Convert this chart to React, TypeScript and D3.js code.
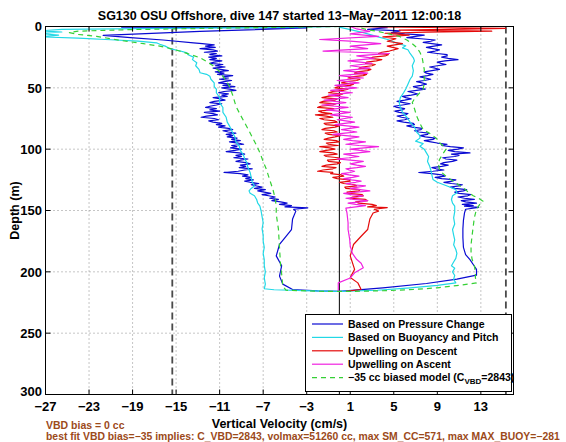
import React from 'react';
import * as d3 from 'd3';

type P = [number, number]; // [depth (m), vertical velocity (cm/s)]

const titleText = 'SG130 OSU Offshore, dive 147 started 13\u2212May\u22122011 12:00:18';
const xLabel = 'Vertical Velocity (cm/s)';
const yLabel = 'Depth (m)';
const noteLines = [
  'VBD bias = 0 cc',
  'best fit VBD bias=\u221235 implies: C_VBD=2843, volmax=51260 cc, max SM_CC=571, max MAX_BUOY=\u2212281',
];
const xTicks = [-27, -23, -19, -15, -11, -7, -3, 1, 5, 9, 13];
const yTicks = [0, 50, 100, 150, 200, 250, 300];
const xDomain: [number, number] = [-27, 16];
const yDomain: [number, number] = [0, 300];
const vbdLimits = [-15.35, 15.3];
const zeroLine = 0;

const legendLabels = [
  'Based on Pressure Change',
  'Based on Buoyancy and Pitch',
  'Upwelling on Descent',
  'Upwelling on Ascent',
];
const modelLabelParts = ['\u221235 cc biased model (C', 'VBD', '=2843)'];

const pressureDescent: P[] = [
  [0, -0.5], [0.6, -20], [1.1, -3], [4, -12.8], [7.3, -21.7], [9, -19.2], [11, -16.2], [13.3, -13.4],
  [14, -12.6], [15, -11.5], [16, -12.3], [17, -11.4], [18, -12.8], [19, -11.6], [20, -11.2], [21, -12.4],
  [22, -11.3], [23, -11.9], [24, -10.8], [25, -12.0], [26, -11.3], [27, -11.9], [28, -10.8], [29, -11.5],
  [30, -11.9], [31, -10.7], [32, -11.4], [33, -10.5], [34, -11.6], [35, -10.9], [36, -10.2], [37, -11.4],
  [38, -10.6], [39, -11.2], [40, -9.8], [41, -10.7], [42, -10.2], [43, -11.0], [44, -9.9], [45, -10.6],
  [46, -11.1], [47, -10.0], [48, -10.7], [49, -9.6], [50, -10.8], [51, -10.1], [52, -9.5], [53, -10.6],
  [54, -11.1], [55, -10.2], [56, -10.8], [57, -10.3], [58, -11.6], [59, -10.9], [60, -10.5], [61, -11.5],
  [62, -11.9], [63, -10.8], [64, -11.3], [65, -11.9], [66, -12.3], [67, -11.3], [68, -11.9], [69, -11.0],
  [70, -12.4], [71, -11.6], [72, -11.2], [73, -12.2], [74, -12.7], [75, -11.5], [76, -11.1], [77, -12.0],
  [78, -11.6], [79, -10.8], [80, -11.3], [81, -10.5], [82, -11.1], [83, -10.2], [84, -9.8], [85, -10.7],
  [86, -10.2], [87, -9.5], [88, -10.4], [89, -9.8], [90, -10.3], [91, -9.4], [92, -9.9], [93, -9.1],
  [94, -10.1], [95, -9.3], [96, -8.8], [97, -9.9], [98, -9.4], [99, -10.0], [100, -9.0], [101, -9.6],
  [102, -10.4], [103, -9.2], [104, -8.7], [105, -9.5], [106, -9.0], [107, -9.7], [108, -8.4], [109, -9.1],
  [110, -9.5], [111, -8.6], [112, -8.2], [113, -9.1], [114, -8.6], [115, -9.2], [116, -8.0], [117, -8.7],
  [118, -9.3], [119, -10.6], [120, -9.1], [121, -8.4], [122, -8.9], [123, -8.1], [124, -8.6], [125, -7.9],
  [126, -8.7], [127, -8.2], [128, -7.4], [129, -8.1], [130, -7.6], [131, -7.1], [132, -7.8], [133, -6.8],
  [134, -7.5], [135, -6.9], [136, -6.3], [137, -7.1], [138, -6.5], [139, -5.9], [140, -6.4], [141, -5.6],
  [142, -6.2], [143, -5.4], [144, -4.8], [145, -5.5], [146, -4.4], [147, -5.0], [147.8, -2.9], [149, -4.2],
  [150.5, -4.0], [157, -4.3], [165.5, -4.4], [171, -4.9], [177.7, -5.5], [187, -5.8], [195, -5.3],
  [203.5, -5.5], [210, -5.2], [214.4, -4.3], [215.5, -2.0], [216, 0],
];
const pressureAscent: P[] = [
  [216, 0], [213, 4], [209.5, 8], [206, 10.8], [202.7, 12.6], [198, 12.6], [194, 12.3], [190, 12.0],
  [186, 11.6], [180, 11.4], [172, 11.35], [165, 11.35], [158, 11.4], [152, 11.5], [149, 11.6],
  [147.5, 12.8], [146.5, 11.5], [146, 12.3], [145, 11.3], [144, 12.6], [143, 11.6], [142, 11.2], [141, 12.4],
  [140, 11.5], [139, 10.9], [138, 11.8], [137, 12.1], [136, 11.0], [135, 10.6], [134, 11.4], [133, 11.7],
  [132, 10.6], [131, 10.2], [130, 11.0], [129, 11.3], [128, 10.3], [127, 9.6], [126, 10.4], [125, 10.7],
  [124, 9.4], [123, 8.8], [122, 9.7], [121, 9.4], [120, 8.5], [119, 7.3], [118, 8.6], [117, 9.6],
  [116, 8.9], [115, 8.5], [114, 9.4], [113, 10.0], [112, 9.3], [111, 9.6], [110, 10.4], [109, 10.8],
  [108, 9.8], [107, 9.5], [106, 10.6], [105, 11.0], [104, 10.3], [103, 12.0], [102, 10.6], [101, 10.0],
  [100, 10.9], [99, 11.4], [98, 10.2], [97, 9.4], [96, 9.9], [95, 9.0], [94, 8.4], [93, 7.8], [92, 8.6],
  [91, 8.8], [90, 7.9], [89, 7.4], [88, 8.1], [87, 8.2], [86, 7.3], [85, 6.9], [84, 7.5], [83, 7.6],
  [82, 6.7], [81, 6.2], [80, 6.9], [79, 6.8], [78, 5.9], [77, 5.3], [76, 6.0], [75, 6.4], [74, 5.7],
  [73, 5.3], [72, 6.1], [71, 6.3], [70, 5.5], [69, 5.1], [68, 5.8], [67, 6.0], [66, 5.3], [65, 5.0],
  [64, 5.8], [63, 6.5], [62, 5.9], [61, 5.3], [60, 6.0], [59, 6.6], [58, 6.1], [57, 5.8], [56, 6.6],
  [55, 7.2], [54, 6.8], [53, 6.3], [52, 7.1], [51, 7.9], [50, 7.2], [49, 6.8], [48, 7.5], [47, 8.0],
  [46, 7.6], [45, 7.1], [44, 7.8], [43, 8.4], [42, 7.9], [41, 7.4], [40, 8.1], [39, 8.6], [38, 8.0],
  [37, 7.8], [36, 8.5], [35, 9.2], [34, 8.8], [33, 8.3], [32, 9.0], [31, 9.8], [30, 9.3], [29, 9.0],
  [28, 9.7], [27, 10.9], [26, 10.0], [25, 9.4], [24, 9.9], [23, 9.9], [22, 9.0], [21, 8.1], [20, 8.8],
  [19, 9.2], [18, 8.6], [17, 8.0], [16, 8.7], [15, 9.4], [14, 8.5], [13, 7.7], [12, 8.4], [11, 8.8],
  [10, 7.5], [9, 6.2], [8, 7.0], [7, 7.8], [6, 6.0], [5, 4.8], [4, 5.4], [3.5, 5.6], [2.4, 2.6],
  [1, 4.4], [0, 3.0],
];

const buoyancyDescent: P[] = [
  [0, 0], [0.8, -6], [1.6, -16], [2.4, -25.5], [3.5, -27.5], [4.5, -25.5], [5.7, -27.6], [7, -25.8],
  [8.4, -27.6], [9.5, -24], [10.8, -21], [12, -18.5], [13.3, -16.8], [14.5, -16.5], [16, -16.0], [18, -15.6],
  [20, -14.6], [21.5, -14.0], [23, -13.9], [25, -13.4], [27, -13.5], [29.6, -13.1], [32, -13.2], [35, -12.9],
  [37.7, -12.8], [39, -12.2], [40.5, -11.9], [43, -11.8], [46, -11.5], [49, -11.5], [51, -11.3], [54, -11.3],
  [58, -11.0], [62, -11.0], [66, -10.7], [70, -10.7], [74, -10.4], [78, -10.3], [81, -10.1], [85, -9.9],
  [90, -9.6], [94, -9.5], [97.6, -9.2], [101, -9.1], [105, -8.8], [108, -8.7], [111, -8.5], [115, -8.4],
  [119, -8.2], [123, -8.1], [127, -8.0], [130, -7.8], [132, -8.1], [134, -8.3], [136, -8.2], [138, -7.8],
  [141, -7.6], [144, -7.5], [146.5, -7.3], [150, -7.2], [155, -7.1], [160, -7.0], [165, -7.1], [170, -7.0],
  [175, -7.0], [180, -6.9], [185, -7.0], [190, -6.9], [195, -6.9], [200, -6.8], [205, -6.9], [210, -6.8],
  [213.8, -6.9], [214.6, -6.0], [215.5, -2.5], [216, 0],
];
const buoyancyAscent: P[] = [
  [216, 0], [215, 3.5], [213, 6.5], [211, 9], [209, 10.7], [206, 10.5], [203, 10.6], [200, 10.4],
  [197, 10.6], [195, 10.3], [192, 10.5], [189, 10.7], [185, 10.8], [181.8, 10.7], [178, 10.5], [174, 10.6],
  [170, 10.5], [165.5, 10.4], [161, 10.6], [156, 10.5], [151, 10.6], [146.5, 10.6], [144, 10.4], [141, 10.3],
  [138, 10.4], [135.5, 10.8], [133, 10.7], [131, 10.2], [129, 9.6], [127, 9.0], [124.7, 8.6], [121, 8.5],
  [117, 8.4], [114, 8.3], [110, 8.1], [106, 8.2], [103, 8.0], [100, 7.8], [97.6, 7.4], [95.5, 7.7],
  [93.5, 7.0], [91, 7.4], [89, 7.4], [86, 7.1], [82, 6.9], [78, 6.5], [74, 6.2], [70, 5.8], [66, 5.6],
  [62, 5.5], [58, 5.6], [54, 5.9], [51, 6.1], [47, 6.3], [43, 6.5], [40.5, 6.7], [36, 6.8], [32, 6.7],
  [28, 6.9], [25.5, 6.8], [22, 6.5], [19, 6.3], [17.4, 5.8], [15.7, 6.1], [13.3, 5.2], [11, 4.6], [8, 3.4],
  [5, 2.2], [3, 1.2], [1.5, 0.5], [0.5, 0],
];

const upwellingDescent: P[] = [
  [0, 0.3], [0.8, 8], [1.5, 15.3], [2.2, 11.5], [3, 5.5], [3.8, 14], [4.6, 8.0], [5.5, 4.2], [7, 6.4],
  [8.5, 4.0], [10, 5.2], [12, 4.4], [14, 5.8], [16, 4.4], [18, 5.4],
  [20, 4.6], [21, 3.9], [22, 3.6], [23, 4.5], [24, 4.2], [25, 3.1], [26, 2.8], [27, 3.9], [28, 3.4],
  [29, 2.5], [30, 2.4], [31, 3.3], [32, 3.0], [33, 2.1], [34, 1.8], [35, 2.9], [36, 2.6], [37, 1.6],
  [38, 1.4], [39, 2.5], [40, 2.2], [41, 1.1], [42, 0.8], [43, 1.9], [44, 1.6], [45, 0.6], [46, 0.2],
  [47, 1.3], [48, 1.0], [49, -0.1], [50, -0.4], [51, 0.8], [52, 0.4], [53, -0.6], [54, -1.0], [55, 0.3],
  [56, 0.0], [57, -1.1], [58, -1.6], [59, -0.2], [60, -0.4], [61, -1.5], [62, -1.8], [63, -0.3], [64, -0.6],
  [65, -1.7], [66, -2.0], [67, -0.5], [68, -0.8], [69, -1.9], [70, -1.6], [71, -0.7], [72, -2.2], [73, -1.2],
  [74, -0.6], [75, -1.8], [76, -1.4], [77, -0.4], [78, -0.2], [79, -1.4], [80, -1.2], [81, 0.0], [82, -0.4],
  [83, -1.3], [84, -1.6], [85, -0.5], [86, -0.2], [87, -1.3], [88, -1.0], [89, 0.1], [90, -0.4], [91, -1.0],
  [92, -1.4], [93, -0.3], [94, 0.0], [95, -1.2], [96, -1.0], [97, -0.1], [98, -1.8], [99, -0.9], [100, -0.4],
  [101, -1.2], [102, -1.8], [103, -0.6], [104, -0.2], [105, -1.4], [106, -1.2], [107, -0.1], [108, 0.2],
  [109, -1.1], [110, -1.0], [111, 0.1], [112, -0.2], [113, -1.2], [114, -1.6], [115, -0.3], [116, -0.6],
  [117, -1.5], [118, -2.0], [119, -0.6], [120, -0.8], [121, 0.2], [122, 0.4], [123, -0.6], [124, -0.2],
  [125, 0.9], [126, 1.0], [127, 0.0], [128, 0.4], [129, 1.4], [130, 1.6], [131, 0.5], [132, 0.6], [133, 1.9],
  [134, 1.8], [135, 0.7], [136, 0.8], [137, 2.1], [138, 2.2], [139, 1.2], [140, 1.0], [141, 2.4], [142, 2.6],
  [143, 1.5], [144, 1.8], [145, 3.0], [146, 3.4], [147, 2.6], [147.6, 4.4], [149, 3.2], [150.5, 3.6],
  [152, 3.1], [157, 2.8], [165.5, 2.6], [171, 2.0], [177.7, 1.3], [187, 1.0], [198, 1.4], [204.6, 1.0],
  [209, 1.7], [214.4, 2.0], [216, 0.6],
];
const upwellingAscent: P[] = [
  [216, -0.1], [209, -0.1], [205, 1.0], [200.8, 1.4], [196.7, 2.2], [193, 2.0], [190, 1.6], [185, 1.2],
  [179, 1.0], [173.6, 0.95], [165.5, 0.8], [160, 0.8], [152, 0.7], [148, 0.6],
  [146, 2.4], [145, 1.5], [144, 0.8], [143, 1.9], [142, 2.6], [141, 1.3], [140, 0.6], [139, 1.7], [138, 2.2],
  [137, 1.1], [136, 0.4], [135, 1.6], [134, 2.8], [133, 1.9], [132, 1.0], [131, 1.7], [130, 2.4], [129, 1.2],
  [128, 0.6], [127, 1.5], [126, 2.0], [125, 1.1], [124, 0.4], [123, 1.2], [122, 1.8], [121, 0.9], [120, 0.2],
  [119, 1.0], [118, 1.4], [117, 0.9], [116, 0.6], [115, 1.6], [114, 2.4], [113, 1.6], [112, 1.0], [111, 1.6],
  [110, 2.2], [109, 1.0], [108, -0.2], [107, 0.9], [106, 1.8], [105, 1.1], [104, 0.4], [103, 1.7], [102, 2.8],
  [101, 1.9], [100, 1.0], [99, 2.3], [98, 3.6], [97, 1.8], [96, 0.6], [95, 1.5], [94, 2.4], [93, 1.2],
  [92, 0.4], [91, 1.1], [90, 1.8], [89, 0.6], [88, -0.6], [87, 0.5], [86, 1.6], [85, 0.9], [84, 0.2],
  [83, 1.0], [82, 1.8], [81, 0.7], [80, -0.4], [79, 0.5], [78, 1.4], [77, 0.6], [76, -0.2], [75, 0.5],
  [74, 1.2], [73, 0.2], [72, -0.8], [71, 0.1], [70, 1.0], [69, -0.1], [68, -1.2], [67, -0.2], [66, 0.8],
  [65, -0.4], [64, -1.6], [63, -0.5], [62, 0.6], [61, -0.4], [60, -1.4], [59, -0.3], [58, 0.8], [57, -0.1],
  [56, -1.0], [55, 0.1], [54, 1.2], [53, 0.2], [52, -0.8], [51, 0.4], [50, 1.6], [49, 0.6], [48, -0.4],
  [47, 0.7], [46, 1.8], [45, 0.8], [44, -0.2], [43, 1.0], [42, 2.2], [41, 1.1], [40, 0.0], [39, 1.3],
  [38, 2.6], [37, 1.5], [36, 0.4], [35, 1.6], [34, 2.8], [33, 1.9], [32, 1.0], [31, 2.0], [30, 3.0],
  [29, 1.9], [28, 0.8], [27, 2.0], [26, 3.2], [25, 2.4], [24, 1.6], [23, 3.1], [22, 4.6], [21, 1.5],
  [20, -1.5], [18, 2.6], [16, 1.0], [14, 3.8], [12, 1.0], [10.6, -1.8], [8, 3.6], [6, 1.0], [4, 2.8],
  [2, 1.6], [0, 1.0],
];

const modelDescent: P[] = [
  [0, 0], [1.2, -10], [2.5, -19], [3.8, -24], [5, -24.8], [6.5, -24], [8, -22.3], [10, -21], [11.6, -19.9],
  [14, -18], [16, -16.5], [18, -15.5], [20, -14.7], [23, -13.6], [25.5, -12.8], [28.5, -12.2], [32, -11.6],
  [36, -11.1], [40.5, -10.7], [44.5, -10.4], [48.7, -10.1], [56, -9.8], [65, -9.5], [72, -9.1], [78.5, -8.7],
  [85, -8.3], [92, -7.9], [97, -7.6], [103, -7.3], [110, -7.0], [116.6, -6.7], [125, -6.4], [133, -6.1],
  [140, -5.9], [146.5, -5.8], [153, -5.8], [165, -5.6], [180, -5.5], [195, -5.4], [202, -5.3], [211.7, -5.2],
  [215, -4.9], [215.8, -2], [216, 0],
];
const modelAscent: P[] = [
  [216, 0], [215.8, 2], [215.3, 4.5], [214.4, 6.8], [213, 9], [211, 11], [209, 12.6], [205, 12.5],
  [200, 12.5], [195, 12.4], [190, 12.2], [184.5, 12.1], [178, 12.1], [170, 12.2], [163, 12.3], [156, 12.4],
  [149, 12.6], [145, 12.9], [142.4, 13.2], [140, 12.8], [138, 12.3], [135.5, 11.9], [133, 11.6], [130, 11.1],
  [127.4, 10.7], [124.5, 10.2], [122, 9.8], [119, 9.4], [116.6, 9.2], [112, 9.1], [108.4, 9.2], [104, 9.5],
  [100, 9.8], [97, 9.5], [94.8, 9.2], [91, 8.9], [89, 8.6], [86, 8.1], [84, 7.7], [79, 7.4], [73, 7.1],
  [67, 6.9], [62, 6.7], [59, 6.9], [56, 7.2], [51, 7.7], [46, 7.8], [40.5, 7.8], [35, 7.8], [30, 7.7],
  [25, 7.6], [21, 7.4], [17, 7.1], [14, 6.7], [11, 6.2], [8, 5.5], [5.5, 4.3], [4, 3.5], [2.4, 2.5],
  [1, 1.9], [0, 1.6],
];

const FONT = '"Liberation Sans", Arial, Helvetica, sans-serif';
const BLUE = '#0a0ad2';
const CYAN = '#22d8e6';
const RED = '#e40a0a';
const MAGENTA = '#f022e0';
const GREEN = '#35d035';
const BROWN = '#9c4a1a';

export default function App() {
  const W = 566;
  const H = 442;
  const L = 45.5, R = 513.5, T = 26.5, B = 394.5;
  const x = d3.scaleLinear().domain(xDomain).range([L, R]);
  const y = d3.scaleLinear().domain(yDomain).range([T, B]);
  const line = d3.line<P>().x((d) => x(d[1])).y((d) => y(d[0]));

  const series = [
    { d: [...pressureDescent, ...pressureAscent.slice(1)], color: BLUE, dash: undefined },
    { d: [...buoyancyDescent, ...buoyancyAscent.slice(1)], color: CYAN, dash: undefined },
    { d: upwellingDescent, color: RED, dash: undefined },
    { d: upwellingAscent, color: MAGENTA, dash: undefined },
    { d: [...modelDescent, ...modelAscent.slice(1)], color: GREEN, dash: '5,4' },
  ];
  const legendColors = [BLUE, CYAN, RED, MAGENTA];

  const legX = 305.5, legY = 314.5, legW = 206, legH = 77;
  const rowY = (i: number) => 324 + i * 13.4;

  return (
    <svg width={W} height={H} style={{ position: 'absolute', left: 0, top: 0, background: '#fff' }}
      fontFamily={FONT} fontWeight="bold">
      <defs>
        <clipPath id="plotClip">
          <rect x={L} y={T} width={R - L} height={B - T} />
        </clipPath>
      </defs>
      <rect x={0} y={0} width={W} height={H} fill="#fff" />
      {xTicks.filter((t) => t !== xDomain[0]).map((t) => (
        <line key={'gx' + t} x1={x(t)} x2={x(t)} y1={T} y2={B} stroke="#8c8c8c" strokeWidth={1} strokeDasharray="1,3" />
      ))}
      {yTicks.filter((t) => t !== yDomain[0] && t !== yDomain[1]).map((t) => (
        <line key={'gy' + t} x1={L} x2={R} y1={y(t)} y2={y(t)} stroke="#8c8c8c" strokeWidth={1} strokeDasharray="1,3" />
      ))}
      {vbdLimits.map((v) => (
        <line key={'vb' + v} x1={x(v)} x2={x(v)} y1={T} y2={B} stroke="#4a4a4a" strokeWidth={1.8} strokeDasharray="7,4" />
      ))}
      <line x1={x(zeroLine)} x2={x(zeroLine)} y1={T} y2={B} stroke="#000" strokeWidth={1} />
      <g clipPath="url(#plotClip)">
        {series.map((s, i) => (
          <path key={'s' + i} d={line(s.d as P[]) || ''} fill="none" stroke={s.color} strokeWidth={1.2}
            strokeDasharray={s.dash} strokeLinejoin="round" />
        ))}
      </g>
      <rect x={L} y={T} width={R - L} height={B - T} fill="none" stroke="#000" strokeWidth={1} />
      {xTicks.map((t) => (
        <g key={'tx' + t}>
          <line x1={x(t)} x2={x(t)} y1={B} y2={B - 5} stroke="#000" />
          <line x1={x(t)} x2={x(t)} y1={T} y2={T + 5} stroke="#000" />
          <text x={x(t)} y={410.5} fontSize={13} textAnchor="middle" fill="#000">
            {t < 0 ? '\u2212' + Math.abs(t) : String(t)}
          </text>
        </g>
      ))}
      {yTicks.map((t) => (
        <g key={'ty' + t}>
          <line x1={L} x2={L + 5} y1={y(t)} y2={y(t)} stroke="#000" />
          <line x1={R} x2={R - 5} y1={y(t)} y2={y(t)} stroke="#000" />
          <text x={42} y={Math.min(y(t) + 4.7, 395.5)} fontSize={13} textAnchor="end" fill="#000">{t}</text>
        </g>
      ))}
      <rect x={legX} y={legY} width={legW} height={legH} fill="#fff" stroke="#000" strokeWidth={1} />
      {legendLabels.map((lab, i) => (
        <g key={'lg' + i}>
          <line x1={312} x2={343} y1={rowY(i)} y2={rowY(i)} stroke={legendColors[i]} strokeWidth={1.2} />
          <text x={348} y={rowY(i) + 3.8} fontSize={10.5} fill="#000">{lab}</text>
        </g>
      ))}
      <line x1={312} x2={343} y1={rowY(4)} y2={rowY(4)} stroke={GREEN} strokeWidth={1.2} strokeDasharray="5,4" />
      <text x={348} y={rowY(4) + 3.8} fontSize={10.5} fill="#000">
        {modelLabelParts[0]}
        <tspan fontSize={8} dy={3}>{modelLabelParts[1]}</tspan>
        <tspan dy={-3}>{modelLabelParts[2]}</tspan>
      </text>
      <text x={(L + R) / 2} y={19.5} fontSize={12.5} textAnchor="middle" fill="#000">{titleText}</text>
      <text x={(L + R) / 2} y={428} fontSize={12.5} textAnchor="middle" fill="#000">{xLabel}</text>
      <text transform={`translate(18.5, ${(T + B) / 2}) rotate(-90)`} fontSize={12.5} textAnchor="middle" fill="#000">{yLabel}</text>
      <text x={46} y={429} fontSize={10.5} fill={BROWN}>{noteLines[0]}</text>
      <text x={46} y={440} fontSize={10.4} fill={BROWN}>{noteLines[1]}</text>
    </svg>
  );
}
